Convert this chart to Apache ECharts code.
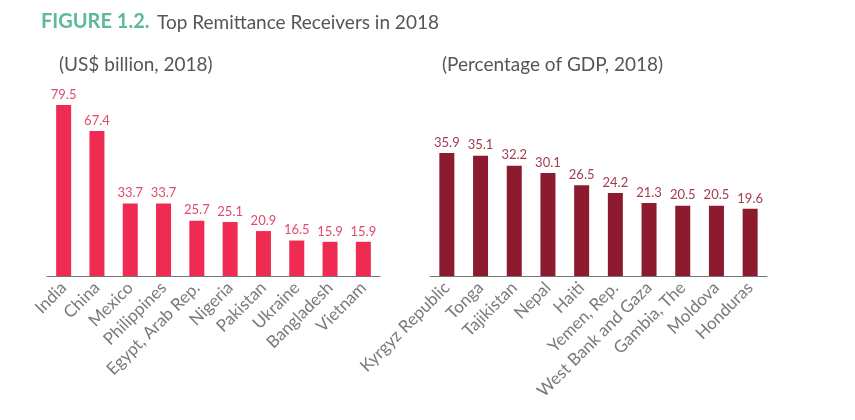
<!DOCTYPE html>
<html><head><meta charset="utf-8">
<script src="https://cdn.jsdelivr.net/npm/echarts@6/dist/echarts.min.js"></script>
<style>html,body{margin:0;padding:0;background:#fff}#c{width:855px;height:420px}</style>
</head><body><div id="c"></div>
<script>
const leftCategories = ['India','China','Mexico','Philippines','Egypt, Arab Rep.','Nigeria','Pakistan','Ukraine','Bangladesh','Vietnam'];
const leftValues = [79.5,67.4,33.7,33.7,25.7,25.1,20.9,16.5,15.9,15.9];
const rightCategories = ['Kyrgyz Republic','Tonga','Tajikistan','Nepal','Haiti','Yemen, Rep.','West Bank and Gaza','Gambia, The','Moldova','Honduras'];
const rightValues = [35.9,35.1,32.2,30.1,26.5,24.2,21.3,20.5,20.5,19.6];

const FONT = 'Lato';
const chart = echarts.init(document.getElementById('c'));
function xAxis(idx, cats){
  return {type:'category', gridIndex:idx, data:cats,
    axisLine:{lineStyle:{color:'#777',width:1}},
    axisTick:{alignWithLabel:true,length:6,lineStyle:{color:'#777'}},
    axisLabel:{rotate:45,color:'#7a7a7a',fontFamily:FONT,fontSize:17,margin:9,interval:0}};
}
function yAxis(idx,max){
  return {type:'value',gridIndex:idx,min:0,max:max,show:false,splitLine:{show:false}};
}
chart.setOption({
  animation:false,
  textStyle:{fontFamily:FONT},
  title:[
    {text:'FIGURE 1.2.',left:36,top:7,textStyle:{color:'#5db99b',fontSize:20,fontWeight:'bold',fontFamily:FONT}},
    {text:'Top Remittance Receivers in 2018',left:152,top:8,textStyle:{color:'#555',fontSize:19,fontWeight:'normal',fontFamily:FONT}},
    {text:'(US$ billion, 2018)',left:54,top:50,textStyle:{color:'#555',fontSize:19,fontWeight:'normal',fontFamily:FONT}},
    {text:'(Percentage of GDP, 2018)',left:437,top:50,textStyle:{color:'#555',fontSize:19,fontWeight:'normal',fontFamily:FONT}}
  ],
  grid:[
    {left:47,width:333,top:104,height:172},
    {left:430,width:337,top:139,height:137}
  ],
  xAxis:[xAxis(0,leftCategories),xAxis(1,rightCategories)],
  yAxis:[yAxis(0,80),yAxis(1,40)],
  series:[
    {type:'bar',xAxisIndex:0,yAxisIndex:0,data:leftValues,barWidth:15,
     itemStyle:{color:'#ef2b52'},
     label:{show:true,position:'top',distance:4,color:'#e24a6c',fontSize:13,fontFamily:FONT}},
    {type:'bar',xAxisIndex:1,yAxisIndex:1,data:rightValues,barWidth:15,
     itemStyle:{color:'#8c1b2f'},
     label:{show:true,position:'top',distance:4,color:'#a13e50',fontSize:13,fontFamily:FONT}}
  ]
});
</script></body></html>
